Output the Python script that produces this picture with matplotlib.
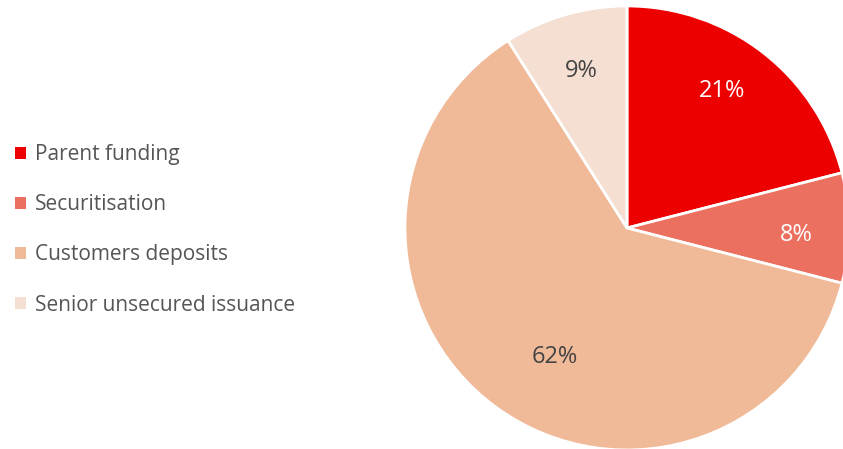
import numpy as np
import matplotlib
matplotlib.use('Agg')
import matplotlib.pyplot as plt
from matplotlib.patches import Patch

plt.rcParams['font.family'] = ['Open Sans', 'DejaVu Sans']

# data
labels = ['Parent funding', 'Securitisation', 'Customers deposits', 'Senior unsecured issuance']
shares = [21, 8, 62, 9]
colors = ['#EC0000', '#EC7060', '#F0B998', '#F5DED2']
pct_colors = ['white', 'white', '#444444', '#444444']
pct_dist = [0.76, 0.765, 0.655, 0.745]
pct_shift = [3.6, -1.7, 6.3, 0]  # degrees

fig = plt.figure(figsize=(8.43, 4.49), dpi=100)
ax = fig.add_axes([0.4804, -0.0022, 0.5267, 0.9889])

wedges, _ = ax.pie(shares, colors=colors, startangle=90, counterclock=False,
                   radius=1, wedgeprops=dict(edgecolor='white', linewidth=2))
ax.set_xlim(-1, 1)
ax.set_ylim(-1, 1)
ax.set_aspect('equal')
ax.axis('off')

for w, s, c, d, sh in zip(wedges, shares, pct_colors, pct_dist, pct_shift):
    ang = np.deg2rad((w.theta1 + w.theta2) / 2 + sh)
    ax.text(d * np.cos(ang), d * np.sin(ang) - 0.01, f'{s}%', ha='center', va='center',
            fontsize=17, color=c)

handles = [Patch(facecolor=c, edgecolor='none') for c in colors]
fig.legend(handles, labels, loc='center left', bbox_to_anchor=(-0.004, 0.488),
           frameon=False, fontsize=15, handlelength=0.5, handleheight=0.5,
           handletextpad=0.45, labelspacing=1.4, labelcolor='#555555')

fig.savefig('out.png', dpi=100)
